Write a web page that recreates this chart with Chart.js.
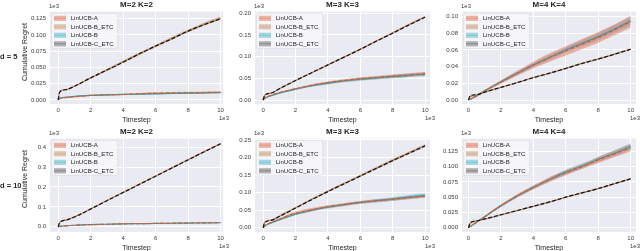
<!DOCTYPE html>
<html>
<head>
<meta charset="utf-8">
<script src="https://cdn.jsdelivr.net/npm/chart.js@4/dist/chart.umd.min.js"></script>
<style>
  html, body { margin: 0; padding: 0; background: #fff; }
  #wrap { position: relative; width: 640px; height: 251px; overflow: hidden;
          font-family: "Liberation Sans", Arial, sans-serif; color: #262626; }
  canvas { position: absolute; }
  .t { position: absolute; white-space: nowrap; line-height: 1; }
</style>
</head>
<body>
<div id="wrap"></div>
<script>
// timesteps in units of 1e3, regret in units of 1e3
const timesteps = [0, 0.1, 0.5, 1, 2, 3, 4, 5, 6, 7, 8, 9, 10];
const seriesNames = ["LinUCB-A", "LinUCB-B_ETC", "LinUCB-B", "LinUCB-C_ETC"];
const xTicks = [0, 2, 4, 6, 8, 10];

// mean curves, one list per series in seriesNames order
const meanD5M2 = [
  [0, 0.002, 0.004, 0.005, 0.007, 0.008, 0.0085, 0.0095, 0.0105, 0.011, 0.0112, 0.0115, 0.012],
  [0, 0.013, 0.016, 0.021, 0.034, 0.046, 0.059, 0.071, 0.083, 0.095, 0.106, 0.117, 0.126],
  [0, 0.003, 0.004, 0.0055, 0.007, 0.0078, 0.0085, 0.009, 0.0095, 0.010, 0.0105, 0.011, 0.0113],
  [0, 0.012, 0.016, 0.021, 0.034, 0.046, 0.058, 0.071, 0.083, 0.094, 0.106, 0.116, 0.125]
];
const ciD5M2 = [
  [0, 0.0005, 0.0008, 0.001, 0.001, 0.001, 0.0012, 0.0012, 0.0013, 0.0013, 0.0013, 0.0014, 0.0014],
  [0, 0.001, 0.001, 0.0012, 0.0015, 0.0017, 0.0018, 0.002, 0.0021, 0.0022, 0.0023, 0.0024, 0.0025],
  [0, 0.0005, 0.0006, 0.0007, 0.0008, 0.0008, 0.0008, 0.0009, 0.0009, 0.0009, 0.001, 0.001, 0.001],
  [0, 0.0005, 0.0005, 0.0006, 0.0007, 0.0008, 0.0009, 0.001, 0.001, 0.0011, 0.0011, 0.0012, 0.0012]
];
const meanD5M3 = [
  [0, 0.004, 0.011, 0.017, 0.026, 0.034, 0.040, 0.045, 0.049, 0.052, 0.055, 0.058, 0.061],
  [0, 0.011, 0.016, 0.026, 0.045, 0.063, 0.081, 0.099, 0.117, 0.136, 0.155, 0.174, 0.192],
  [0, 0.004, 0.010, 0.016, 0.025, 0.033, 0.039, 0.044, 0.048, 0.051, 0.054, 0.057, 0.059],
  [0, 0.011, 0.016, 0.026, 0.045, 0.063, 0.081, 0.099, 0.117, 0.136, 0.154, 0.173, 0.191]
];
const ciD5M3 = [
  [0, 0.001, 0.001, 0.0015, 0.002, 0.0025, 0.003, 0.003, 0.0035, 0.0035, 0.004, 0.004, 0.0045],
  [0, 0.001, 0.001, 0.001, 0.0012, 0.0013, 0.0014, 0.0015, 0.0016, 0.0017, 0.0018, 0.0019, 0.002],
  [0, 0.001, 0.0012, 0.0015, 0.002, 0.0025, 0.003, 0.0032, 0.0035, 0.0037, 0.004, 0.004, 0.0042],
  [0, 0.0005, 0.0006, 0.0007, 0.0008, 0.0009, 0.001, 0.001, 0.0011, 0.0011, 0.0012, 0.0012, 0.0013]
];
const meanD5M4 = [
  [0, 0.001, 0.005, 0.011, 0.0215, 0.032, 0.042, 0.051, 0.059, 0.067, 0.075, 0.084, 0.094],
  [0, 0.004, 0.006, 0.0095, 0.015, 0.021, 0.027, 0.032, 0.038, 0.044, 0.049, 0.055, 0.061],
  [0, 0.001, 0.005, 0.011, 0.022, 0.032, 0.042, 0.051, 0.060, 0.068, 0.076, 0.085, 0.095],
  [0, 0.005, 0.0065, 0.0095, 0.0152, 0.0208, 0.0268, 0.0322, 0.0378, 0.0438, 0.0492, 0.0548, 0.0608]
];
const ciD5M4 = [
  [0, 0.0003, 0.001, 0.0015, 0.002, 0.003, 0.004, 0.005, 0.0055, 0.006, 0.0065, 0.0065, 0.007],
  [0, 0.0003, 0.0004, 0.0005, 0.0005, 0.0005, 0.0006, 0.0006, 0.0006, 0.0007, 0.0007, 0.0007, 0.0008],
  [0, 0.0003, 0.0008, 0.001, 0.0015, 0.002, 0.0025, 0.003, 0.003, 0.0035, 0.004, 0.0045, 0.005],
  [0, 0.0003, 0.0004, 0.0004, 0.0005, 0.0005, 0.0005, 0.0006, 0.0006, 0.0006, 0.0007, 0.0007, 0.0007]
];
const meanD10M2 = [
  [0, 0.002, 0.005, 0.008, 0.011, 0.013, 0.015, 0.016, 0.017, 0.018, 0.019, 0.020, 0.021],
  [0, 0.022, 0.035, 0.050, 0.090, 0.132, 0.173, 0.214, 0.255, 0.296, 0.337, 0.378, 0.418],
  [0, 0.002, 0.005, 0.008, 0.011, 0.013, 0.015, 0.016, 0.017, 0.018, 0.019, 0.0195, 0.0205],
  [0, 0.021, 0.034, 0.049, 0.089, 0.131, 0.172, 0.213, 0.254, 0.295, 0.336, 0.377, 0.417]
];
const ciD10M2 = [
  [0, 0.001, 0.001, 0.0015, 0.0015, 0.0015, 0.002, 0.002, 0.002, 0.002, 0.002, 0.002, 0.002],
  [0, 0.001, 0.0015, 0.002, 0.002, 0.0025, 0.0025, 0.003, 0.003, 0.003, 0.0035, 0.0035, 0.004],
  [0, 0.001, 0.001, 0.001, 0.0012, 0.0012, 0.0013, 0.0013, 0.0014, 0.0014, 0.0015, 0.0015, 0.0015],
  [0, 0.001, 0.001, 0.001, 0.0012, 0.0013, 0.0014, 0.0015, 0.0016, 0.0017, 0.0018, 0.0019, 0.002]
];
const meanD10M3 = [
  [0, 0.005, 0.015, 0.024, 0.041, 0.051, 0.060, 0.066, 0.072, 0.077, 0.081, 0.086, 0.090],
  [0, 0.016, 0.022, 0.033, 0.057, 0.081, 0.104, 0.126, 0.148, 0.170, 0.192, 0.213, 0.234],
  [0, 0.005, 0.014, 0.023, 0.039, 0.050, 0.059, 0.066, 0.072, 0.077, 0.082, 0.087, 0.092],
  [0, 0.015, 0.021, 0.032, 0.056, 0.080, 0.103, 0.125, 0.147, 0.169, 0.191, 0.212, 0.233]
];
const ciD10M3 = [
  [0, 0.001, 0.002, 0.003, 0.005, 0.005, 0.004, 0.004, 0.004, 0.004, 0.004, 0.004, 0.004],
  [0, 0.001, 0.002, 0.002, 0.002, 0.0025, 0.003, 0.003, 0.0035, 0.0035, 0.004, 0.004, 0.004],
  [0, 0.001, 0.002, 0.003, 0.003, 0.003, 0.004, 0.004, 0.004, 0.005, 0.005, 0.006, 0.006],
  [0, 0.0005, 0.0008, 0.001, 0.001, 0.001, 0.0012, 0.0012, 0.0013, 0.0013, 0.0014, 0.0014, 0.0015]
];
const meanD10M4 = [
  [0, 0.002, 0.009, 0.018, 0.036, 0.052, 0.066, 0.079, 0.090, 0.100, 0.111, 0.121, 0.131],
  [0, 0.007, 0.011, 0.014, 0.021, 0.028, 0.035, 0.042, 0.050, 0.057, 0.064, 0.072, 0.080],
  [0, 0.002, 0.009, 0.018, 0.036, 0.052, 0.066, 0.079, 0.091, 0.101, 0.112, 0.122, 0.133],
  [0, 0.008, 0.0115, 0.0145, 0.0213, 0.0283, 0.0352, 0.0423, 0.0502, 0.0571, 0.0642, 0.0722, 0.0802]
];
const ciD10M4 = [
  [0, 0.0005, 0.001, 0.0015, 0.002, 0.003, 0.003, 0.004, 0.004, 0.004, 0.005, 0.005, 0.006],
  [0, 0.0004, 0.0005, 0.0005, 0.0006, 0.0006, 0.0007, 0.0007, 0.0008, 0.0008, 0.0009, 0.0009, 0.001],
  [0, 0.0005, 0.001, 0.0015, 0.002, 0.002, 0.003, 0.003, 0.004, 0.004, 0.004, 0.005, 0.005],
  [0, 0.0003, 0.0004, 0.0004, 0.0005, 0.0005, 0.0006, 0.0006, 0.0006, 0.0007, 0.0007, 0.0007, 0.0008]
];

// y tick labels per panel
const yTicksD5M2 = ["0.000", "0.025", "0.050", "0.075", "0.100", "0.125"];
const yTicksD5M3 = ["0.00", "0.05", "0.10", "0.15", "0.20"];
const yTicksD5M4 = ["0.00", "0.02", "0.04", "0.06", "0.08", "0.10"];
const yTicksD10M2 = ["0.0", "0.1", "0.2", "0.3", "0.4"];
const yTicksD10M3 = ["0.00", "0.05", "0.10", "0.15", "0.20", "0.25"];
const yTicksD10M4 = ["0.000", "0.025", "0.050", "0.075", "0.100", "0.125"];

// styles
const FONT = '"Liberation Sans", Arial, sans-serif';
const lineColors = ["#dc5a2a", "#b98e66", "#2aa2b6", "#151515"];
const bandColors = ["rgba(226,122,96,0.55)", "rgba(200,156,118,0.55)", "rgba(78,180,200,0.5)", "rgba(90,90,90,0.45)"];
const lineDash = [[4, 2], [], [], [4, 2]];
const lineOrder = [1, 3, 2, 0];

const panels = [
  { title: "M=2 K=2", mean: meanD5M2, ci: ciD5M2, yTicks: yTicksD5M2, l: 50, r: 223, t: 10, b: 104, xMin: -0.5, xMax: 10.15, yMin: -0.0062, yMax: 0.136, offX: 229 },
  { title: "M=3 K=3", mean: meanD5M3, ci: ciD5M3, yTicks: yTicksD5M3, l: 255, r: 430, t: 10, b: 104, xMin: -0.5, xMax: 10.3, yMin: -0.0091, yMax: 0.2039, offX: 435 },
  { title: "M=4 K=4", mean: meanD5M4, ci: ciD5M4, yTicks: yTicksD5M4, l: 462, r: 636, t: 10, b: 104, xMin: -0.4, xMax: 10.33, yMin: -0.0047, yMax: 0.1059, offX: 640 },
  { title: "M=2 K=2", mean: meanD10M2, ci: ciD10M2, yTicks: yTicksD10M2, l: 50, r: 223, t: 137, b: 232, xMin: -0.5, xMax: 10.15, yMin: -0.026, yMax: 0.443, offX: 229 },
  { title: "M=3 K=3", mean: meanD10M3, ci: ciD10M3, yTicks: yTicksD10M3, l: 255, r: 430, t: 137, b: 232, xMin: -0.5, xMax: 10.3, yMin: -0.012, yMax: 0.2536, offX: 435 },
  { title: "M=4 K=4", mean: meanD10M4, ci: ciD10M4, yTicks: yTicksD10M4, l: 462, r: 636, t: 137, b: 232, xMin: -0.4, xMax: 10.33, yMin: -0.0069, yMax: 0.1459, offX: 640 }
];

const wrap = document.getElementById("wrap");

function addText(txt, x, y, css, anchor) {
  const d = document.createElement("div");
  d.className = "t";
  d.textContent = txt;
  d.style.left = x + "px";
  d.style.top = y + "px";
  d.style.transform = anchor || "translate(-50%,-50%)";
  Object.assign(d.style, css || {});
  wrap.appendChild(d);
  return d;
}

const bgPlugin = {
  id: "darkgrid",
  beforeDraw(chart) {
    const { ctx, chartArea: a } = chart;
    ctx.save();
    ctx.fillStyle = "#eaeaf2";
    ctx.fillRect(a.left, a.top, a.right - a.left, a.bottom - a.top);
    ctx.restore();
  }
};

const boxLegend = {
  id: "boxLegend",
  afterDatasetsDraw(chart) {
    const { ctx, chartArea: a } = chart;
    const x0 = a.left + 1.7, y0 = a.top + 1.7;
    ctx.save();
    ctx.font = "6.1px " + FONT;
    const tw = Math.max(...seriesNames.map(n => ctx.measureText(n).width));
    const w = 19 + tw + 4, h = 35;
    ctx.beginPath();
    ctx.roundRect(x0, y0, w, h, 2);
    ctx.fillStyle = "rgba(248,248,250,0.85)";
    ctx.fill();
    ctx.strokeStyle = "#d6d6dc";
    ctx.lineWidth = 0.6;
    ctx.stroke();
    ctx.textBaseline = "middle";
    seriesNames.forEach((name, i) => {
      const cy = y0 + 5 + 8.5 * i;
      ctx.fillStyle = bandColors[i];
      ctx.fillRect(x0 + 2.3, cy - 2.6, 12, 5.2);
      ctx.strokeStyle = lineColors[i];
      ctx.globalAlpha = 0.25;
      ctx.lineWidth = 1;
      ctx.beginPath();
      ctx.moveTo(x0 + 2.3, cy);
      ctx.lineTo(x0 + 14.3, cy);
      ctx.stroke();
      ctx.globalAlpha = 1;
      ctx.fillStyle = "#262626";
      ctx.fillText(name, x0 + 19, cy + 0.3);
    });
    ctx.restore();
  }
};

const YW = 48, XH = 20, PT = 6, PR = 8;

panels.forEach((p, pi) => {
  const cv = document.createElement("canvas");
  const w = YW + (p.r - p.l) + PR, h = PT + (p.b - p.t) + XH;
  cv.width = w; cv.height = h;
  cv.style.width = w + "px"; cv.style.height = h + "px";
  cv.style.left = (p.l - YW) + "px";
  cv.style.top = (p.t - PT) + "px";
  wrap.appendChild(cv);

  const pts = arr => arr.map((v, i) => ({ x: timesteps[i], y: v }));
  const datasets = [];
  seriesNames.forEach((name, s) => {
    datasets.push({
      label: name, data: pts(p.mean[s]), borderColor: lineColors[s], borderWidth: 1.2,
      borderDash: lineDash[s], pointRadius: 0, fill: false, order: lineOrder[s],
      cubicInterpolationMode: "monotone"
    });
  });
  seriesNames.forEach((name, s) => {
    const m = p.mean[s], c = p.ci[s];
    datasets.push({
      label: name + " upper", data: pts(m.map((v, i) => v + c[i])), borderWidth: 0,
      pointRadius: 0, fill: false, order: 10 + s, cubicInterpolationMode: "monotone"
    });
    datasets.push({
      label: name + " lower", data: pts(m.map((v, i) => v - c[i])), borderWidth: 0,
      pointRadius: 0, fill: "-1", backgroundColor: bandColors[s], order: 10 + s,
      cubicInterpolationMode: "monotone"
    });
  });

  new Chart(cv, {
    type: "line",
    data: { datasets },
    options: {
      responsive: false,
      animation: false,
      events: [],
      layout: { padding: { top: PT, right: PR, left: 0, bottom: 0 } },
      plugins: { legend: { display: false }, tooltip: { enabled: false } },
      scales: {
        x: {
          type: "linear", min: p.xMin, max: p.xMax,
          afterBuildTicks: s => { s.ticks = xTicks.map(v => ({ value: v })); },
          afterFit: s => { s.height = XH; },
          grid: { color: "#ffffff", lineWidth: 1, drawTicks: false },
          border: { display: false },
          ticks: { padding: 2.5, color: "#3a3a3a", font: { size: 6, family: FONT }, maxRotation: 0,
                   callback: v => String(v) }
        },
        y: {
          type: "linear", min: p.yMin, max: p.yMax,
          afterBuildTicks: s => { s.ticks = p.yTicks.map(v => ({ value: parseFloat(v) })); },
          afterFit: s => { s.width = YW; },
          grid: { color: "#ffffff", lineWidth: 1, drawTicks: false },
          border: { display: false },
          ticks: { padding: 4, color: "#3a3a3a", font: { size: 6, family: FONT },
                   callback: (v, i) => p.yTicks[i] }
        }
      }
    },
    plugins: [bgPlugin, boxLegend]
  });

  const cx = (p.l + p.r) / 2;
  addText(p.title, cx, p.t - 5, { fontSize: "8px", fontWeight: "bold", color: "#262626" });
  addText("1e3", p.l - 1, p.t - 4.5, { fontSize: "6px", color: "#3a3a3a" }, "translate(0,-50%)");
  addText("Timestep", cx, p.b + 14.5, { fontSize: "7px", color: "#262626" });
  addText("1e3", p.offX, p.b + 14, { fontSize: "6px", color: "#3a3a3a" }, "translate(-100%,-50%)");
});

// left column axis labels and row labels
addText("Cumulative Regret", 24, 52, { fontSize: "7px", color: "#262626" }, "translate(-50%,-50%) rotate(-90deg)");
addText("Cumulative Regret", 24, 179, { fontSize: "7px", color: "#262626" }, "translate(-50%,-50%) rotate(-90deg)");
addText("d = 5", 0, 57, { fontSize: "7.5px", fontWeight: "bold", color: "#262626" }, "translate(0,-50%)");
addText("d = 10", 0, 185.5, { fontSize: "7.5px", fontWeight: "bold", color: "#262626" }, "translate(0,-50%)");
</script>
</body>
</html>
